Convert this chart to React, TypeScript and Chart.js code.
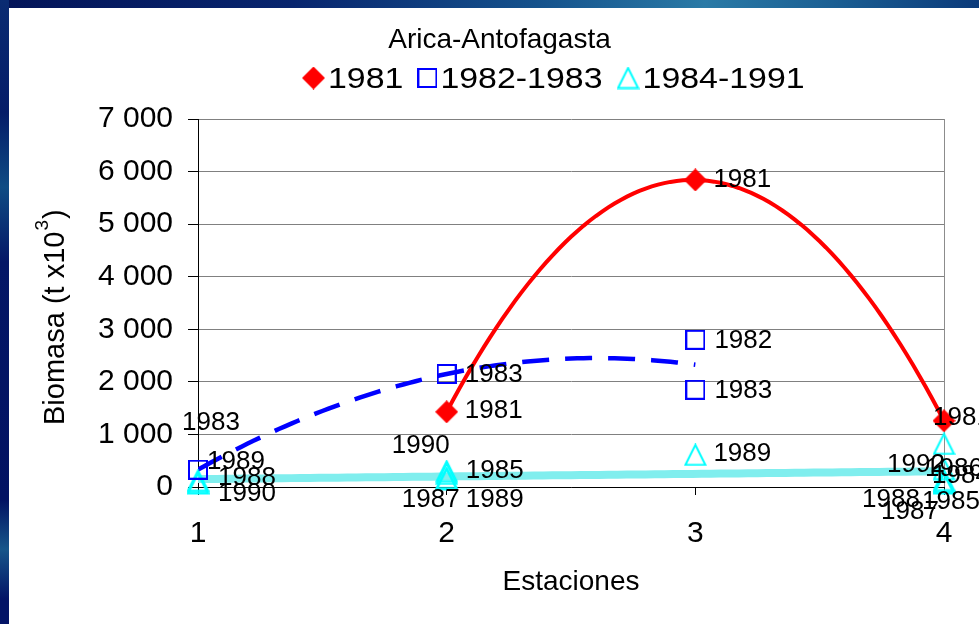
import { useEffect, useRef } from 'react';
import { Chart, registerables } from 'chart.js';

Chart.register(...registerables);

// ---- Text ----
const CHART_TITLE = 'Arica-Antofagasta';
const X_TITLE = 'Estaciones';
const Y_TITLE_MAIN = 'Biomasa (t x10';
const Y_TITLE_SUP = '3';
const Y_TITLE_END = ')';

// ---- Axes ----
const STATIONS = [1, 2, 3, 4];
const Y_TICKS = [0, 1000, 2000, 3000, 4000, 5000, 6000, 7000];

// ---- Series: 1981 ----
const S1981_NAME = '1981';
const S1981_X = [2, 3, 4];
const S1981_Y = [1430, 5840, 1260];
const S1981_YEARS = ['1981', '1981', '1981'];

// ---- Series: 1982-1983 ----
const S8283_NAME = '1982-1983';
const S8283_X = [1, 2, 3, 3];
const S8283_Y = [330, 2150, 2800, 1850];
const S8283_YEARS = ['1983', '1983', '1982', '1983'];

// ---- Series: 1984-1991 ----
const S8491_NAME = '1984-1991';
const S8491_X = [1, 1, 1, 2, 2, 2, 2, 3, 4, 4, 4, 4, 4, 4];
const S8491_Y = [120, 95, 70, 300, 250, 170, 148, 610, 820, 340, 130, 100, 80, 67];
const S8491_YEARS = ['1989', '1988', '1990', '1990', '1985', '1987', '1989', '1989', '1992', '1986', '1984', '1988', '1985', '1987'];

// Year-label placement (label centre relative to its marker, px)
const S1981_LABEL_OFFSETS = [[47, -1], [47, 0], [18, -3]];
const S8283_LABEL_OFFSETS = [[13, -47], [47, 1], [48, 1], [48, 1]];
const S8491_LABEL_OFFSETS = [
  [38, -19], [49, -4], [49, 11],
  [-26, -25], [48, -3], [-16, 22], [48, 21],
  [47, -1],
  [-28, 21], [10, 0], [17, -4], [-53, 18], [7, 19], [-34, 28],
];

const FONT = '"Liberation Sans", Arial, Helvetica, sans-serif';

// Least-squares polynomial fit (Excel-style trendline)
function polyfit(xs: number[], ys: number[], degree: number): number[] {
  const n = degree + 1;
  const A: number[][] = Array.from({ length: n }, () => new Array(n + 1).fill(0));
  for (let k = 0; k < xs.length; k++) {
    for (let i = 0; i < n; i++) {
      for (let j = 0; j < n; j++) A[i][j] += Math.pow(xs[k], i + j);
      A[i][n] += ys[k] * Math.pow(xs[k], i);
    }
  }
  for (let i = 0; i < n; i++) {
    let p = i;
    for (let r = i + 1; r < n; r++) if (Math.abs(A[r][i]) > Math.abs(A[p][i])) p = r;
    [A[i], A[p]] = [A[p], A[i]];
    for (let r = 0; r < n; r++) {
      if (r === i) continue;
      const f = A[r][i] / A[i][i];
      for (let c = i; c <= n; c++) A[r][c] -= f * A[i][c];
    }
  }
  return A.map((row, i) => row[n] / row[i]);
}

function trendline(xs: number[], ys: number[], degree: number, steps = 80) {
  const c = polyfit(xs, ys, degree);
  const lo = Math.min(...xs);
  const hi = Math.max(...xs);
  return Array.from({ length: steps + 1 }, (_, k) => {
    const x = lo + ((hi - lo) * k) / steps;
    return { x, y: c.reduce((s, ci, i) => s + ci * Math.pow(x, i), 0) };
  });
}

function toPoints(xs: number[], ys: number[]) {
  return xs.map((x, i) => ({ x, y: ys[i] }));
}

function makeMarker(w: number, h: number, draw: (ctx: CanvasRenderingContext2D) => void) {
  const c = document.createElement('canvas');
  c.width = w;
  c.height = h;
  const ctx = c.getContext('2d')!;
  draw(ctx);
  return c;
}

function formatThousands(v: number) {
  if (v < 1000) return String(v);
  return `${Math.floor(v / 1000)} ${String(v % 1000).padStart(3, '0')}`;
}

export default function App() {
  const ref = useRef<HTMLCanvasElement>(null);

  useEffect(() => {
    const canvas = ref.current;
    if (!canvas) return;

    const diamond = makeMarker(23, 23, (ctx) => {
      ctx.fillStyle = '#FF0000';
      ctx.beginPath();
      ctx.moveTo(11.5, 0);
      ctx.lineTo(23, 11.5);
      ctx.lineTo(11.5, 23);
      ctx.lineTo(0, 11.5);
      ctx.closePath();
      ctx.fill();
    });
    const square = makeMarker(20, 20, (ctx) => {
      ctx.strokeStyle = '#0000FF';
      ctx.lineWidth = 2;
      ctx.strokeRect(1, 1, 18, 18);
    });
    const triangle = makeMarker(23, 23, (ctx) => {
      ctx.strokeStyle = '#00FFFF';
      ctx.lineWidth = 2;
      ctx.beginPath();
      ctx.moveTo(11.5, 1.5);
      ctx.lineTo(21.5, 21.5);
      ctx.lineTo(1.5, 21.5);
      ctx.closePath();
      ctx.stroke();
    });

    const labelSets = [
      { dataset: 0, years: S1981_YEARS, offsets: S1981_LABEL_OFFSETS },
      { dataset: 1, years: S8283_YEARS, offsets: S8283_LABEL_OFFSETS },
      { dataset: 2, years: S8491_YEARS, offsets: S8491_LABEL_OFFSETS },
    ];

    const legendItems = [
      { img: diamond, text: S1981_NAME },
      { img: square, text: S8283_NAME },
      { img: triangle, text: S8491_NAME },
    ];

    const decorations = {
      id: 'decorations',
      afterDatasetsDraw(chart: any) {
        const ctx = chart.ctx as CanvasRenderingContext2D;
        ctx.save();
        ctx.font = `26px ${FONT}`;
        ctx.fillStyle = '#000';
        ctx.textAlign = 'center';
        ctx.textBaseline = 'middle';
        labelSets.forEach(({ dataset, years, offsets }) => {
          const meta = chart.getDatasetMeta(dataset);
          meta.data.forEach((pt: any, i: number) => {
            const [dx, dy] = offsets[i];
            ctx.fillText(years[i], pt.x + dx, pt.y + dy);
          });
        });
        ctx.restore();
      },
      afterDraw(chart: any) {
        const ctx = chart.ctx as CanvasRenderingContext2D;
        ctx.save();
        ctx.fillStyle = '#000';

        // chart title
        ctx.font = `28px ${FONT}`;
        ctx.textAlign = 'center';
        ctx.textBaseline = 'alphabetic';
        ctx.fillText(CHART_TITLE, 499.5, 48);

        // legend row
        ctx.font = `30px ${FONT}`;
        ctx.textAlign = 'left';
        const stretch = 1.13;
        let x = 302;
        legendItems.forEach(({ img, text }) => {
          ctx.drawImage(img, x, 78 - img.height / 2);
          x += img.width + 3;
          ctx.save();
          ctx.translate(x, 88);
          ctx.scale(stretch, 1);
          ctx.fillText(text, 0, 0);
          ctx.restore();
          x += ctx.measureText(text).width * stretch + 14;
        });

        // y-axis title with superscript
        ctx.translate(64, 425);
        ctx.rotate(-Math.PI / 2);
        ctx.font = `29px ${FONT}`;
        ctx.fillText(Y_TITLE_MAIN, 0, 0);
        let w = ctx.measureText(Y_TITLE_MAIN).width + 1;
        ctx.font = `19px ${FONT}`;
        ctx.fillText(Y_TITLE_SUP, w, -16);
        w += ctx.measureText(Y_TITLE_SUP).width + 1;
        ctx.font = `29px ${FONT}`;
        ctx.fillText(Y_TITLE_END, w, 0);
        ctx.restore();
      },
    };

    const chart = new Chart(canvas, {
      type: 'scatter',
      data: {
        datasets: [
          {
            label: S1981_NAME,
            data: toPoints(S1981_X, S1981_Y),
            pointStyle: diamond as any,
            pointRadius: 10,
            showLine: false,
            clip: false as any,
            order: 0,
            backgroundColor: '#FF0000',
            borderColor: '#FF0000',
          },
          {
            label: S8283_NAME,
            data: toPoints(S8283_X, S8283_Y),
            pointStyle: square as any,
            pointRadius: 10,
            showLine: false,
            clip: false as any,
            order: 1,
            backgroundColor: '#0000FF',
            borderColor: '#0000FF',
          },
          {
            label: S8491_NAME,
            data: toPoints(S8491_X, S8491_Y),
            pointStyle: triangle as any,
            pointRadius: 10,
            showLine: false,
            clip: false as any,
            order: 2,
            backgroundColor: '#00FFFF',
            borderColor: '#00FFFF',
          },
          {
            label: 'Polin. (1981)',
            data: trendline(S1981_X, S1981_Y, 2),
            showLine: true,
            pointRadius: 0,
            borderColor: '#FF0000',
            borderWidth: 4,
            order: 10,
          },
          {
            label: 'Polin. (1982-1983)',
            data: trendline(S8283_X, S8283_Y, 2),
            showLine: true,
            pointRadius: 0,
            borderColor: '#0000FF',
            borderWidth: 4.5,
            borderDash: [27, 16],
            order: 11,
          },
          {
            label: 'Lineal (1984-1991)',
            data: trendline(S8491_X, S8491_Y, 1),
            showLine: true,
            pointRadius: 0,
            borderColor: '#80EEEE',
            borderWidth: 8,
            order: 12,
          },
        ],
      },
      options: {
        responsive: false,
        animation: false,
        devicePixelRatio: 1,
        events: [],
        layout: { padding: { top: 119, right: 35, bottom: 0, left: 0 } },
        plugins: {
          legend: { display: false },
          title: { display: false },
          tooltip: { enabled: false },
        },
        scales: {
          x: {
            type: 'linear',
            position: 'bottom',
            min: STATIONS[0],
            max: STATIONS[STATIONS.length - 1],
            afterBuildTicks: (scale: any) => {
              scale.ticks = STATIONS.map((v) => ({ value: v }));
            },
            afterFit: (scale: any) => {
              scale.height = 137;
            },
            ticks: {
              color: '#000',
              padding: 21,
              font: { family: FONT, size: 30 },
              callback: (v: any) => String(v),
            },
            grid: {
              color: (c: any) => (c.tick && c.tick.value === 4 ? '#8c8c8c' : 'rgba(0,0,0,0)'),
              tickColor: '#000',
              tickLength: 8,
              lineWidth: 1,
            },
            border: { color: '#000', width: 1 },
            title: {
              display: true,
              text: X_TITLE,
              color: '#000',
              font: { family: FONT, size: 28 },
              padding: { top: 0, bottom: 25 },
            },
          },
          y: {
            type: 'linear',
            min: Y_TICKS[0],
            max: Y_TICKS[Y_TICKS.length - 1],
            afterBuildTicks: (scale: any) => {
              scale.ticks = Y_TICKS.map((v) => ({ value: v }));
            },
            afterFit: (scale: any) => {
              scale.width = 198;
            },
            ticks: {
              color: '#000',
              padding: 15,
              font: { family: FONT, size: 30 },
              callback: (v: any) => formatThousands(Number(v)),
            },
            grid: {
              color: '#808080',
              tickColor: '#000',
              tickLength: 10,
              lineWidth: 1,
            },
            border: { color: '#000', width: 1 },
          },
        },
      },
      plugins: [decorations],
    } as any);

    return () => chart.destroy();
  }, []);

  return (
    <div
      style={{
        position: 'fixed',
        left: 0,
        top: 0,
        width: 979,
        height: 624,
        overflow: 'hidden',
        background: 'linear-gradient(90deg, #031458 0%, #08256e 30%, #15528c 55%, #2a7aa6 72%, #1b5f93 85%, #0b3a7a 100%)',
      }}
    >
      <div
        style={{
          position: 'absolute',
          left: 0,
          top: 0,
          width: 9,
          height: 624,
          background:
            'linear-gradient(180deg, #0a2c72 0%, #051c68 18%, #0f4c84 30%, #041766 42%, #021262 80%, #17568a 88%, #031466 96%)',
        }}
      />
      <div style={{ position: 'absolute', left: 9, top: 8, right: 0, bottom: 0, background: '#fff' }} />
      <canvas
        ref={ref}
        width={979}
        height={624}
        style={{ position: 'absolute', left: 0, top: 0, width: 979, height: 624 }}
      />
    </div>
  );
}
